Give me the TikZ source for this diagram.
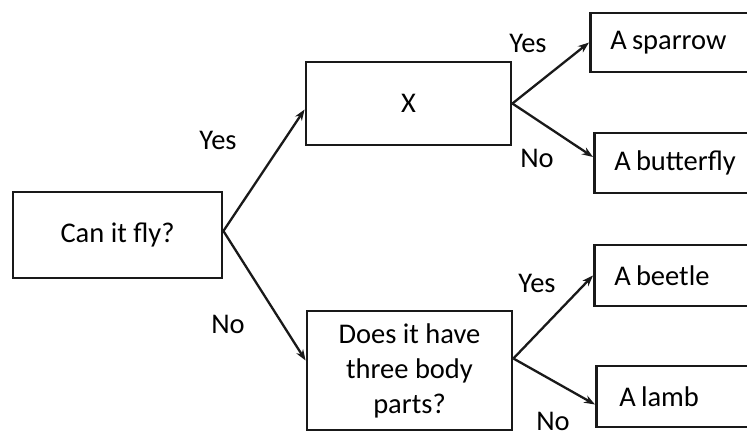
\documentclass[tikz,border=0pt]{standalone}
\usepackage{fontspec}
\setmainfont{Carlito}
\usetikzlibrary{arrows.meta}
\begin{document}
\begin{tikzpicture}[x=1pt,y=-1pt,
  font=\fontsize{28.5}{35}\selectfont,
  box/.style={draw=black!90,line width=2.8pt,rectangle,inner sep=0pt,align=center},
  leaf/.style={draw=black!90,line width=2.8pt,rectangle,anchor=west,inner xsep=20pt,inner ysep=0pt,
    text width=151pt,align=left,minimum width=191pt},
  conn/.style={line width=2.3pt,draw=black!90,-{Stealth[length=11pt,width=8pt]}},
  lbl/.style={inner sep=0pt}]
\useasboundingbox (0,0) rectangle (747,436);
\clip (0,0) rectangle (747,436);
\node[box,minimum width=209pt,minimum height=86pt] (fly) at (117.5,235) {Can it fly?};
\node[box,minimum width=205pt,minimum height=83pt] (x) at (408.5,103.5) {X};
\node[box,minimum width=205pt,minimum height=119pt] (does) at (409.5,370.5) {Does it have\\three body\\parts?};
\node[leaf,minimum height=59pt] (sparrow) at (589,42.5) {A\hspace{0.18em}sparrow};
\node[leaf,minimum height=60pt] (butterfly) at (593,163) {A\hspace{0.18em}butterfly};
\node[leaf,minimum height=61pt] (beetle) at (593,275.5) {A\hspace{0.18em}beetle};
\node[leaf,minimum height=61pt] (lamb) at (595,396.5) {\hspace{3pt}A\hspace{0.18em}lamb};
\coordinate (flyout) at ([yshift=4pt]fly.east);
\coordinate (doesout) at ([yshift=12pt]does.east);
\draw[conn] (flyout) -- ([yshift=-6pt]x.west);
\draw[conn] (flyout) -- ([yshift=10pt]does.west);
\draw[conn] (x.east) -- (sparrow.west);
\draw[conn] (x.east) -- ([yshift=6pt]butterfly.west);
\draw[conn] (doesout) -- (beetle.west);
\draw[conn] (doesout) -- ([yshift=-8pt]lamb.west);
\node[lbl] (yes1) at (218,140) {Yes};
\node[lbl] (no1) at (228,324) {No};
\node[lbl] (yes2) at (528,43) {Yes};
\node[lbl] (no2) at (537,158) {No};
\node[lbl] (yes3) at (537,283) {Yes};
\node[lbl] (no3) at (553,421) {No};
\end{tikzpicture}
\end{document}
